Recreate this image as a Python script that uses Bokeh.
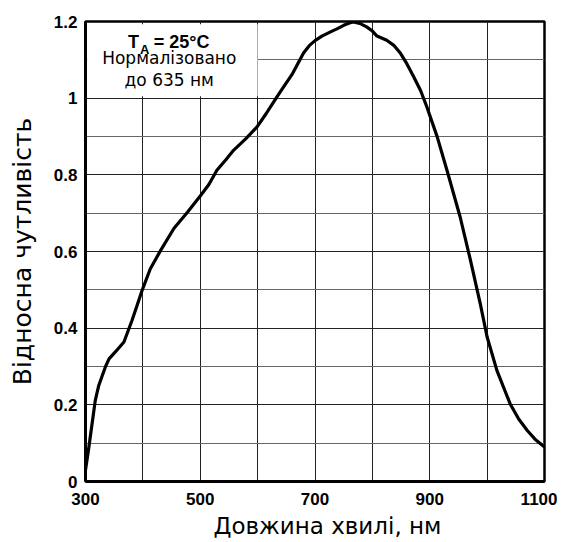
from bokeh.plotting import figure
from bokeh.models import FixedTicker, BoxAnnotation, Label, ColumnDataSource, Title
from bokeh.embed import file_html
from bokeh.resources import INLINE

# ---- data ----
wavelength_nm = [300, 305, 309, 317, 323, 329, 335, 341, 352, 367, 381, 390, 399,
                 413, 431, 454, 478, 501, 515, 529, 545, 558, 580, 599, 615, 630,
                 640, 650, 660, 670, 680, 690, 700, 712, 727, 740, 750, 760, 767,
                 778, 790, 800, 808, 825, 838, 849, 860, 872, 884, 895, 913, 930,
                 953, 971, 988, 1000, 1017, 1040, 1055, 1070, 1085, 1100]
rel_response = [0.03, 0.08, 0.124, 0.211, 0.25, 0.275, 0.30, 0.32, 0.338, 0.364,
                0.42, 0.46, 0.50, 0.555, 0.603, 0.66, 0.703, 0.747, 0.775, 0.812,
                0.84, 0.864, 0.895, 0.925, 0.96, 0.995, 1.018, 1.04, 1.062, 1.09,
                1.118, 1.137, 1.15, 1.162, 1.173, 1.182, 1.19, 1.196, 1.199, 1.195,
                1.186, 1.175, 1.162, 1.151, 1.137, 1.117, 1.09, 1.056, 1.02, 0.977,
                0.899, 0.812, 0.69, 0.577, 0.464, 0.377, 0.29, 0.203, 0.163, 0.133,
                0.108, 0.09]

x_major = [300, 500, 700, 900, 1100]
x_minor = [400, 600, 800, 1000]
y_major = [0, 0.2, 0.4, 0.6, 0.8, 1.0, 1.2]
y_minor = [0.1, 0.3, 0.5, 0.7, 0.9, 1.1]
y_labels = {0: "0", 0.2: "0.2", 0.4: "0.4", 0.6: "0.6", 0.8: "0.8", 1.0: "1", 1.2: "1.2"}

x_title = "Довжина хвилі, нм"
y_title = "Відносна чутливість"
note_line2 = "Нормалізовано"
note_line3 = "до 635 нм"

p = figure(width=557, height=545, output_backend="svg", toolbar_location=None,
           x_range=(300, 1100), y_range=(0, 1.2),
           min_border_left=85, min_border_right=13, min_border_top=21,
           min_border_bottom=64)
p.background_fill_color = "white"
p.border_fill_color = "white"
p.outline_line_color = "black"
p.outline_line_width = 2.5

p.xaxis.ticker = FixedTicker(ticks=x_major, minor_ticks=x_minor)
p.yaxis.ticker = FixedTicker(ticks=y_major, minor_ticks=y_minor)
p.yaxis.major_label_overrides = y_labels

for ax in (p.xaxis, p.yaxis):
    ax.axis_line_color = "black"
    ax.axis_line_width = 3
    ax.major_tick_line_color = None
    ax.minor_tick_line_color = None
    ax.major_tick_out = 0
    ax.minor_tick_out = 0
    ax.major_label_text_font = "Liberation Sans"
    ax.major_label_text_font_style = "bold"
    ax.major_label_text_font_size = "17px"
    ax.major_label_text_color = "black"

p.xaxis.major_label_standoff = 11
p.yaxis.major_label_standoff = 8

p.yaxis.axis_label = y_title
p.yaxis.axis_label_text_font = "DejaVu Sans"
p.yaxis.axis_label_text_font_size = "25px"
p.yaxis.axis_label_text_font_style = "normal"
p.yaxis.axis_label_text_color = "black"
p.yaxis.axis_label_standoff = 14

xt = Title(text=x_title, align="left", offset=128, standoff=6,
           text_font="DejaVu Sans", text_font_size="23px",
           text_font_style="normal", text_color="black")
p.add_layout(xt, "below")

p.xgrid.grid_line_color = "#222222"
p.xgrid.grid_line_width = 1
p.xgrid.minor_grid_line_color = "#222222"
p.xgrid.minor_grid_line_width = 1
p.ygrid.grid_line_color = "#222222"
p.ygrid.grid_line_width = 1
p.ygrid.minor_grid_line_color = "#666666"
p.ygrid.minor_grid_line_width = 1

src = ColumnDataSource(dict(x=wavelength_nm, y=rel_response))
p.line("x", "y", source=src, line_color="black", line_width=3.2, line_join="round")

# white note box
p.add_layout(BoxAnnotation(left=303, right=600, bottom=1.005, top=1.193,
                           fill_color="white", fill_alpha=1.0, line_color=None))

bold = dict(text_font="Liberation Sans", text_font_style="bold", text_color="black")
p.add_layout(Label(x=374, y=1.146, text="T", text_font_size="18px",
                   text_align="left", text_baseline="alphabetic", **bold))
p.add_layout(Label(x=395, y=1.128, text="A", text_font_size="13px",
                   text_align="left", text_baseline="alphabetic", **bold))
p.add_layout(Label(x=419, y=1.146, text="= 25°C", text_font_size="18px",
                   text_align="left", text_baseline="alphabetic", **bold))
p.add_layout(Label(x=446, y=1.104, text=note_line2, text_font="DejaVu Sans",
                   text_font_size="17px", text_align="center",
                   text_baseline="middle", text_color="black"))
p.add_layout(Label(x=446, y=1.047, text=note_line3, text_font="DejaVu Sans",
                   text_font_size="17px", text_align="center",
                   text_baseline="middle", text_color="black"))

open("out.html", "w").write(file_html(p, INLINE))
